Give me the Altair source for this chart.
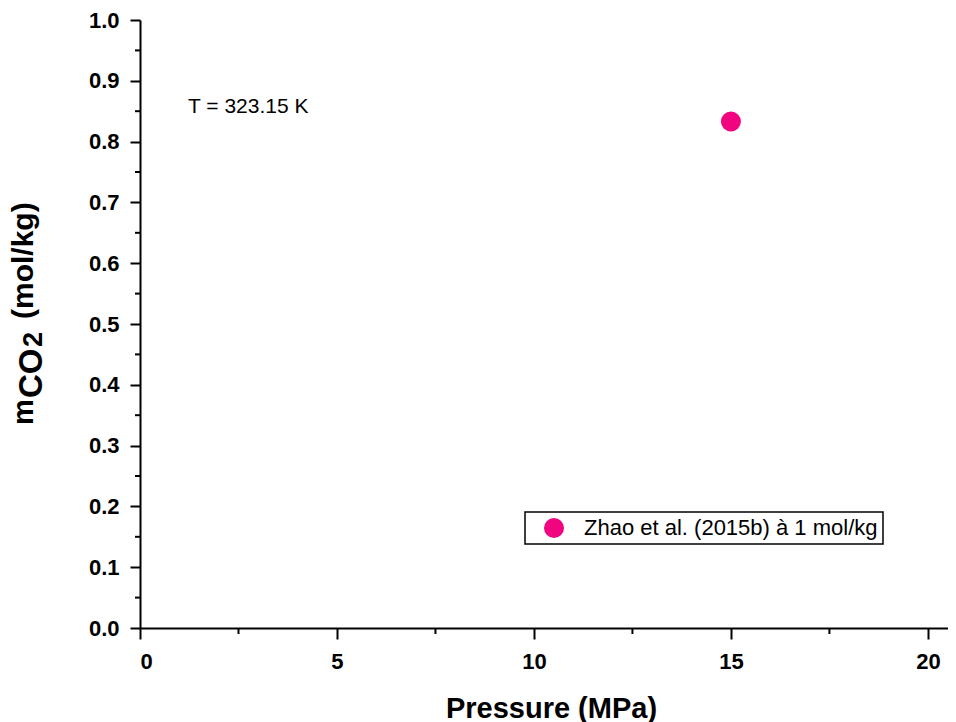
import altair as alt
import pandas as pd

# ---- data ----
series_name = ["Zhao et al. (2015b) à 1 mol/kg"]
pressure = [15.0]
m_co2 = [0.833]
x_ticks = [0, 5, 10, 15, 20]
x_minor = [2.5, 7.5, 12.5, 17.5]
y_ticks = [0.0, 0.1, 0.2, 0.3, 0.4, 0.5, 0.6, 0.7, 0.8, 0.9, 1.0]
y_minor = [0.05, 0.15, 0.25, 0.35, 0.45, 0.55, 0.65, 0.75, 0.85, 0.95]
annotation = "T = 323.15 K"
point_color = "#F0047F"

FONT = "Liberation Sans"
W, H = 808, 608

df = pd.DataFrame({"series": series_name, "P": pressure, "m": m_co2})
xscale = alt.Scale(domain=[0, 20.51], nice=False, zero=False)
yscale = alt.Scale(domain=[0, 1], nice=False)

points = alt.Chart(df).mark_point(filled=True, size=400, opacity=1, shape="circle").encode(
    x=alt.X("P:Q", scale=xscale,
            axis=alt.Axis(values=x_ticks, title="Pressure (MPa)", tickSize=11, labelPadding=12,
                          titleFontSize=29, titleFontWeight="bold", titleFont=FONT,
                          titleBaseline="alphabetic", titleY=89, titleX=411,
                          titleColor="black")),
    y=alt.Y("m:Q", scale=yscale,
            axis=alt.Axis(values=y_ticks, format=".1f", title=None, tickSize=10, labelPadding=11)),
    color=alt.Color("series:N", scale=alt.Scale(range=[point_color]),
                    legend=alt.Legend(title=None, orient="none", legendX=385, legendY=492,
                                      strokeColor="black", padding=5, symbolSize=400,
                                      symbolType="circle", symbolOffset=13, labelOffset=19,
                                      labelFontSize=22, labelFont=FONT, labelColor="black",
                                      labelLimit=0, symbolStrokeWidth=0)),
)

ymin_df = pd.DataFrame({"v": y_minor})
xmin_df = pd.DataFrame({"v": x_minor})
ymin = alt.Chart(ymin_df).mark_rule(color="black", strokeWidth=2).encode(
    y=alt.Y("v:Q", scale=yscale), x=alt.value(-5), x2=alt.value(0))
xmin = alt.Chart(xmin_df).mark_rule(color="black", strokeWidth=2).encode(
    x=alt.X("v:Q", scale=xscale), y=alt.value(H), y2=alt.value(H + 6))

one = alt.Data(values=[{"a": 1}])
def txt(t, size, x, y, weight="bold", angle=0, align="left", baseline="alphabetic"):
    return alt.Chart(one).mark_text(text=t, fontSize=size, fontWeight=weight, font=FONT,
                                    angle=angle, align=align, baseline=baseline,
                                    color="black").encode(x=alt.value(x), y=alt.value(y))

title_parts = [
    txt("m", 29, -107, 405, angle=270),
    txt("CO", 33, -98, 378, angle=270),
    txt("2", 27, -98, 327, angle=270),
    txt("(mol/kg)", 30, -107, 299, angle=270),
]
ann = txt(annotation, 21, 48, 87, weight="normal", baseline="middle")

chart = alt.layer(xmin, ymin, points, ann, *title_parts).properties(
    width=W, height=H,
    autosize=alt.AutoSizeParams(type="none"),
    padding={"left": 132, "top": 12, "right": 0, "bottom": 94},
).configure_view(stroke=None).configure_axis(
    grid=False, domainColor="black", domainWidth=2, tickColor="black", tickWidth=2,
    labelFont=FONT, labelFontSize=22, labelFontWeight="bold", labelColor="black",
).configure_legend(strokeWidth=1.5)

chart.save("out.html", embed_options={"renderer": "svg", "actions": False})
